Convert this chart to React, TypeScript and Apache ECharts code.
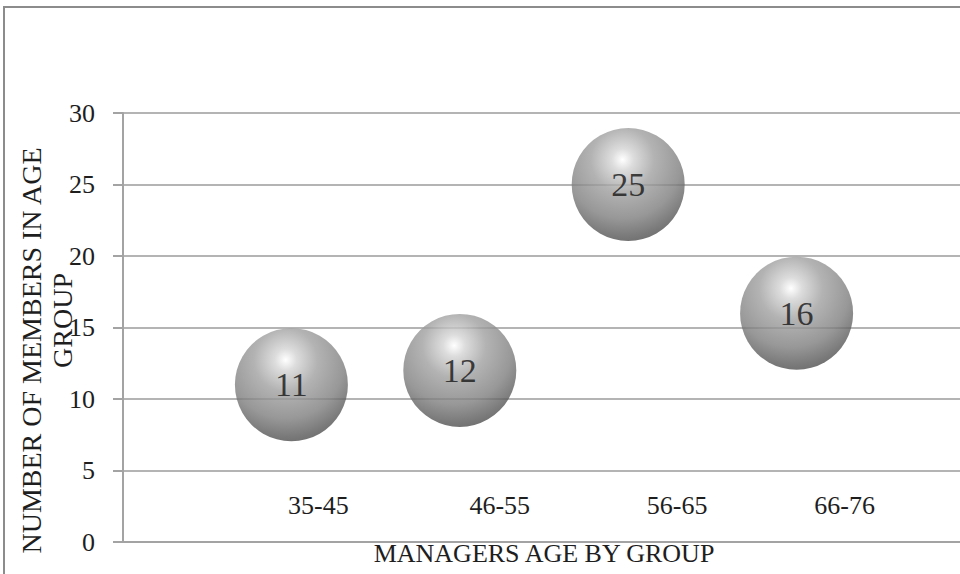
import React, { useEffect, useRef } from "react";
import * as echarts from "echarts";

const categories = ["35-45", "46-55", "56-65", "66-76"];
const categoryX = [1, 2, 3, 4];
const members = [11, 12, 25, 16];
const yTicks = { min: 0, max: 30, interval: 5 };

const FONT = "Liberation Serif";

export default function App() {
  const ref = useRef<HTMLDivElement>(null);

  useEffect(() => {
    if (!ref.current) return;
    const chart = echarts.init(ref.current, null, { renderer: "svg" });
    const data = categoryX.map((x, i) => [x, members[i]]);
    // per-label horizontal nudges (layout tuning, px)
    const labelPad = [54, 80, 98, 96];
    const rich: Record<string, any> = {};
    labelPad.forEach((p, i) => {
      rich["l" + i] = {
        fontFamily: FONT,
        fontSize: 26,
        color: "#1e1e1e",
        padding: [0, 0, 0, p],
      };
    });
    chart.setOption({
      animation: false,
      backgroundColor: "#ffffff",
      textStyle: { fontFamily: FONT },
      grid: {
        left: 123,
        right: -5,
        top: 113,
        bottom: 32,
        containLabel: false,
        outerBoundsMode: "none",
      },
      graphic: [
        {
          type: "rect",
          shape: { x: 4, y: 7, width: 990, height: 600 },
          style: { fill: "none", stroke: "#8c8c8c", lineWidth: 2 },
          silent: true,
          z: -1,
        },
      ],
      xAxis: {
        type: "value",
        min: 0,
        max: 5,
        interval: 1,
        name: "MANAGERS AGE BY GROUP",
        nameLocation: "middle",
        nameGap: -2,
        nameMoveOverlap: false,
        nameTextStyle: {
          fontFamily: FONT,
          fontSize: 26,
          color: "#1e1e1e",
          verticalAlign: "top",
        },
        axisLine: { show: true, lineStyle: { color: "#a3a3a3", width: 2 } },
        axisTick: { show: false },
        splitLine: { show: false },
        axisLabel: {
          inside: true,
          margin: 24,
          fontFamily: FONT,
          fontSize: 26,
          formatter: (v: number) => {
            const i = categoryX.indexOf(v);
            return i >= 0 ? `{l${i}|${categories[i]}}` : "";
          },
          rich,
        },
      },
      yAxis: {
        type: "value",
        min: yTicks.min,
        max: yTicks.max,
        interval: yTicks.interval,
        name: "{a|NUMBER OF MEMBERS IN AGE}\n{b|GROUP}",
        nameLocation: "middle",
        nameGap: 45,
        nameMoveOverlap: false,
        nameRotate: 90,
        nameTextStyle: {
          fontFamily: FONT,
          fontSize: 28,
          color: "#1e1e1e",
          lineHeight: 31,
          rich: {
            a: {
              fontFamily: FONT,
              fontSize: 28,
              color: "#1e1e1e",
              lineHeight: 31,
              padding: [0, 46, 0, 0],
            },
            b: {
              fontFamily: FONT,
              fontSize: 28,
              color: "#1e1e1e",
              lineHeight: 31,
              padding: [0, 0, 0, 14],
            },
          },
        },
        axisLine: { show: true, lineStyle: { color: "#a3a3a3", width: 2 } },
        axisTick: {
          show: true,
          inside: false,
          length: 10,
          lineStyle: { color: "#a3a3a3", width: 2 },
        },
        axisLabel: {
          margin: 28,
          fontFamily: FONT,
          fontSize: 26,
          color: "#1e1e1e",
        },
        splitLine: { show: true, lineStyle: { color: "#b4b4b4", width: 2 } },
      },
      series: [
        {
          type: "scatter",
          data,
          symbol: "circle",
          symbolSize: 113,
          itemStyle: {
            color: {
              type: "radial",
              x: 0.45,
              y: 0.28,
              r: 0.8,
              colorStops: [
                { offset: 0, color: "#ffffff" },
                { offset: 0.12, color: "#d4d4d4" },
                { offset: 0.35, color: "#a0a0a0" },
                { offset: 0.65, color: "#7e7e7e" },
                { offset: 0.85, color: "#585858" },
                { offset: 1, color: "#404040" },
              ],
            },
          },
          label: {
            show: true,
            position: "inside",
            formatter: (p: any) => String(p.value[1]),
            fontFamily: FONT,
            fontSize: 34,
            color: "#151515",
          },
        },
      ],
    });
    return () => chart.dispose();
  }, []);

  return (
    <div
      ref={ref}
      style={{ position: "fixed", left: 0, top: 0, width: 960, height: 574 }}
    />
  );
}
